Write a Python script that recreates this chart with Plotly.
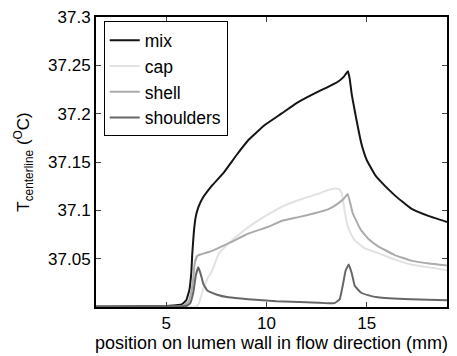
import plotly.graph_objects as go

# ---- data ----
mix_x = [1.5, 5.0, 5.6, 5.8, 6.0, 6.15, 6.25, 6.3, 6.38, 6.46, 6.6, 6.8, 7.3, 7.87, 8.5, 9.11, 9.9,
         10.74, 11.5, 12.4, 13.0, 13.56, 13.85, 14.06, 14.15, 14.25, 14.4, 14.72, 15.0, 15.4, 15.55,
         16.37, 17.2, 18.1, 19.0]
mix_y = [37.0005, 37.001, 37.002, 37.003, 37.007, 37.017, 37.035, 37.055, 37.078, 37.092, 37.103,
         37.112, 37.126, 37.139, 37.157, 37.173, 37.188, 37.200, 37.211, 37.221, 37.227, 37.233,
         37.238, 37.244, 37.236, 37.220, 37.203, 37.170, 37.152, 37.137, 37.133, 37.116, 37.102,
         37.094, 37.088]

cap_x = [1.5, 6.5, 6.62, 6.75, 6.9, 7.1, 7.3, 7.62, 8.12, 8.8, 9.4, 10.1, 10.9, 11.8, 12.7, 13.07,
         13.4, 13.62, 13.75, 13.85, 13.95, 14.06, 14.2, 14.4, 14.88, 15.55, 16.4, 17.2, 18.1, 19.0]
cap_y = [37.0005, 37.0005, 37.003, 37.012, 37.022, 37.031, 37.038, 37.055, 37.066, 37.078, 37.087,
         37.096, 37.105, 37.112, 37.118, 37.121, 37.1225, 37.122, 37.118, 37.106, 37.093, 37.083,
         37.076, 37.069, 37.061, 37.056, 37.049, 37.044, 37.041, 37.038]

shell_x = [1.5, 5.8, 6.1, 6.25, 6.35, 6.42, 6.55, 7.28, 8.12, 9.1, 10.1, 10.75, 11.6, 12.4, 13.07,
           13.56, 13.85, 14.05, 14.3, 14.7, 15.1, 15.55, 16.37, 17.2, 18.1, 19.0]
shell_y = [37.0005, 37.001, 37.005, 37.015, 37.030, 37.045, 37.053, 37.058, 37.066, 37.076, 37.083,
           37.089, 37.093, 37.097, 37.101, 37.107, 37.112, 37.117, 37.097, 37.080, 37.070, 37.063,
           37.054, 37.048, 37.045, 37.043]

sh_x = [1.5, 6.0, 6.2, 6.35, 6.48, 6.6, 6.72, 6.85, 7.05, 7.5, 8.1, 9.1, 10.5, 12.0, 13.4, 13.65,
        13.8, 13.95, 14.1, 14.25, 14.4, 14.7, 15.1, 15.55, 17.2, 19.0]
sh_y = [37.0008, 37.001, 37.004, 37.015, 37.033, 37.041, 37.034, 37.024, 37.017, 37.013, 37.010,
        37.008, 37.006, 37.005, 37.004, 37.008, 37.022, 37.038, 37.044, 37.035, 37.022, 37.015,
        37.012, 37.010, 37.008, 37.007]

names = ["mix", "cap", "shell", "shoulders"]
colors = ["#151515", "#e2e2e2", "#ababab", "#676767"]

y_ticks = [37.05, 37.1, 37.15, 37.2, 37.25, 37.3]
y_ticktext = ["37.05", "37.1", "37.15", "37.2", "37.25", "37.3"]
x_ticks = [5, 10, 15]

FONT = "Liberation Sans, Arial, sans-serif"

fig = go.Figure()
for xs, ys, n, c in zip([mix_x, cap_x, shell_x, sh_x], [mix_y, cap_y, shell_y, sh_y], names, colors):
    fig.add_trace(go.Scatter(x=xs, y=ys, name=n, mode="lines",
                             line=dict(color=c, width=2, shape="spline", smoothing=0.3)))

fig.update_layout(
    width=457, height=356,
    margin=dict(l=96, r=8, t=12, b=49),
    paper_bgcolor="white", plot_bgcolor="white",
    font=dict(family=FONT, size=17, color="black"),
    showlegend=True,
    legend=dict(x=0.022, y=0.985, xanchor="left", yanchor="top",
                bgcolor="white", bordercolor="black", borderwidth=1,
                font=dict(size=17.5), tracegroupgap=0, itemwidth=30),
    xaxis=dict(range=[1.5, 19], tickvals=x_ticks, ticks="inside", ticklen=5,
               showline=True, linecolor="black", linewidth=2, mirror="ticks",
               showgrid=False, zeroline=False, tickfont=dict(size=17),
               title=dict(text="position on lumen wall in flow direction (mm)",
                          font=dict(size=18), standoff=1)),
    yaxis=dict(range=[37.0, 37.3], tickvals=y_ticks, ticktext=y_ticktext, ticks="inside",
               ticklen=5, showline=True, linecolor="black", linewidth=2, mirror="ticks",
               showgrid=False, zeroline=False, tickfont=dict(size=17),
               title=dict(text="T<sub>centerline</sub> (<sup>O</sup>C)", font=dict(size=17),
                          standoff=14)),
)

fig.write_html("out.html")
